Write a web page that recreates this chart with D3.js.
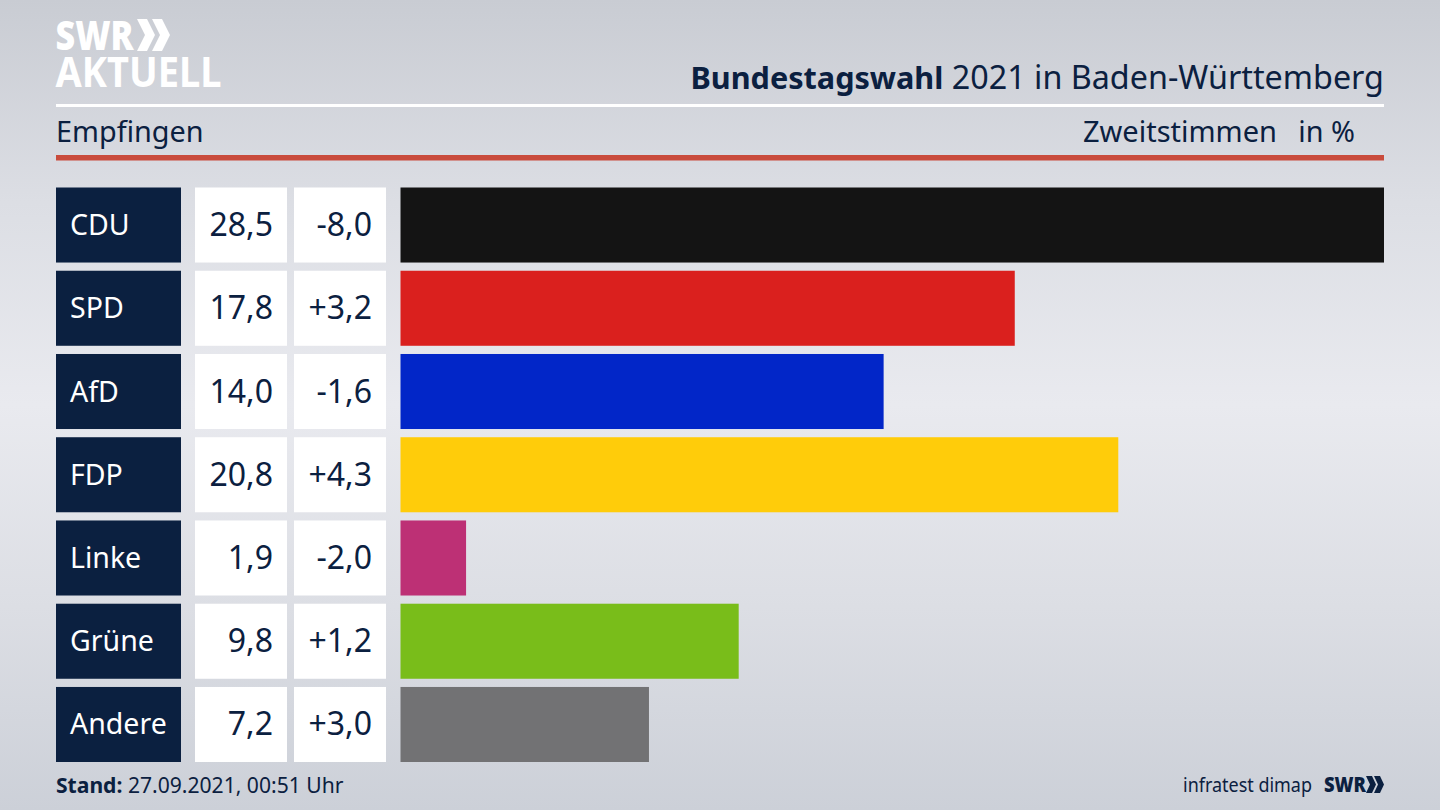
<!DOCTYPE html>
<html lang="de"><head><meta charset="utf-8">
<script src="https://cdnjs.cloudflare.com/ajax/libs/d3/7.8.5/d3.min.js"></script>
<style>html,body{margin:0;padding:0;background:#dfe1e6;overflow:hidden}svg{display:block}text{font-family:"Noto Sans",sans-serif}</style>
</head><body><svg id="c" width="1440" height="810"></svg>
<script>
const parties=["CDU","SPD","AfD","FDP","Linke","Grüne","Andere"];
const shares=[28.5,17.8,14.0,20.8,1.9,9.8,7.2];
const changes=[-8.0,3.2,-1.6,4.3,-2.0,1.2,3.0];
const colors=["#141414","#da201e","#0226c8","#ffcc0a","#bd3075","#79bd1a","#727274"];
const navy="#0b2040";
const svg=d3.select("#c");
const fmt=v=>v.toFixed(1).replace(".",",");
const fmtChange=v=>(v>0?"+":"-")+Math.abs(v).toFixed(1).replace(".",",");

const defs=svg.append("defs");
const g=defs.append("linearGradient").attr("id","bg").attr("x1",0).attr("x2",0).attr("y1",0).attr("y2",1);
[[0,"#c9ccd3"],[0.25,"#dcdee4"],[0.5,"#e9eaef"],[0.75,"#dcdee4"],[1,"#ccd0d8"]].forEach(s=>g.append("stop").attr("offset",s[0]).attr("stop-color",s[1]));
svg.append("rect").attr("width",1440).attr("height",810).attr("fill","url(#bg)");

// logo
const logo=svg.append("text").attr("font-size",41).attr("fill","#fff");
logo.append("tspan").attr("x",55.5).attr("y",50).attr("font-weight",900).attr("textLength",78).attr("lengthAdjust","spacingAndGlyphs").text("SWR");
logo.append("tspan").attr("x",55.5).attr("y",87).attr("font-weight",700).attr("textLength",166).attr("lengthAdjust","spacingAndGlyphs").text("AKTUELL");
const chevron=(x,y,w,h,t)=>`M${x},${y}L${x+t},${y}L${x+w},${y+h/2}L${x+t},${y+h}L${x},${y+h}L${x+w-t},${y+h/2}Z`;
svg.append("path").attr("d",chevron(137,19,18,32,10)+chevron(152,19,18,32,10)).attr("fill","#fff");

// header rules and texts
svg.append("rect").attr("x",56).attr("y",104).attr("width",1328).attr("height",3).attr("fill","#fff");
svg.append("rect").attr("x",56).attr("y",155).attr("width",1328).attr("height",5.5).attr("fill","#c94b3c");
const title=svg.append("text").attr("x",1384).attr("y",89).attr("text-anchor","end").attr("fill",navy);
title.append("tspan").attr("font-weight",700).attr("font-size",30.6).text("Bundestagswahl");
title.append("tspan").attr("font-size",32.3).text(" 2021 in Baden-Württemberg");
svg.append("text").attr("x",56).attr("y",142).attr("font-size",28.8).attr("fill",navy).text("Empfingen");
svg.append("text").attr("x",1277).attr("y",142).attr("text-anchor","end").attr("font-size",29).attr("fill",navy).text("Zweitstimmen");
svg.append("text").attr("x",1355).attr("y",142).attr("text-anchor","end").attr("font-size",28.8).attr("fill",navy).text("in %");

// scales
const y=d3.scaleBand().domain(parties).range([187.5,762]).paddingInner(0.0986);
const x=d3.scaleLinear().domain([0,28.5]).range([400.5,1384]);
const rows=parties.map((p,i)=>({p,s:shares[i],c:changes[i],col:colors[i]}));
const row=svg.selectAll("g.row").data(rows).join("g").attr("class","row").attr("transform",d=>`translate(0,${y(d.p)})`);
const bh=y.bandwidth();
row.append("rect").attr("x",56).attr("width",125).attr("height",bh).attr("fill",navy);
row.append("rect").attr("x",195).attr("width",92).attr("height",bh).attr("fill","#fff");
row.append("rect").attr("x",294).attr("width",92).attr("height",bh).attr("fill","#fff");
row.append("rect").attr("x",x(0)).attr("width",d=>x(d.s)-x(0)).attr("height",bh).attr("fill",d=>d.col);
row.append("text").attr("x",70).attr("y",bh/2+10).attr("font-size",28.5).attr("fill","#fff").text(d=>d.p);
row.append("text").attr("x",273).attr("y",bh/2+11).attr("text-anchor","end").attr("font-size",32).attr("fill",navy).text(d=>fmt(d.s));
row.append("text").attr("x",372).attr("y",bh/2+11).attr("text-anchor","end").attr("font-size",32).attr("fill",navy).text(d=>fmtChange(d.c));

// footer
const st=svg.append("text").attr("x",56).attr("y",793).attr("fill",navy);
st.append("tspan").attr("font-weight",700).attr("font-size",21.1).text("Stand:");
st.append("tspan").attr("font-size",21.1).text(" 27.09.2021, 00:51 Uhr");
svg.append("text").attr("x",1183).attr("y",792).attr("font-size",20).attr("fill",navy).attr("textLength",129).attr("lengthAdjust","spacingAndGlyphs").text("infratest dimap");
svg.append("text").attr("x",1324).attr("y",792).attr("font-size",21).attr("font-weight",900).attr("fill",navy).attr("textLength",42).attr("lengthAdjust","spacingAndGlyphs").text("SWR");
svg.append("path").attr("d",chevron(1366,776,10,17,6)+chevron(1374,776,10,17,6)).attr("fill",navy);
</script></body></html>
